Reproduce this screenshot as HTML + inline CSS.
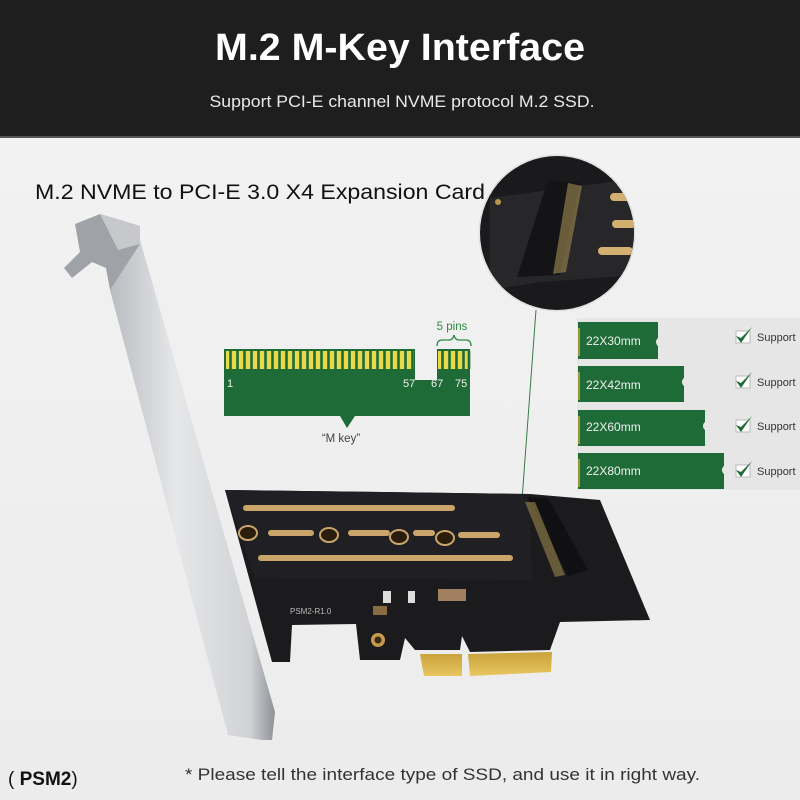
<!DOCTYPE html>
<html><head><meta charset="utf-8"><style>
html,body{margin:0;padding:0;width:800px;height:800px;overflow:hidden;background:#f2f2f2}
svg{display:block}
text{font-family:"Liberation Sans",sans-serif}
</style></head><body>
<svg width="800" height="800" viewBox="0 0 800 800" xmlns="http://www.w3.org/2000/svg">
<defs>
<linearGradient id="bg" x1="0" y1="0" x2="0" y2="1"><stop offset="0" stop-color="#f3f3f3"/><stop offset="1" stop-color="#ececec"/></linearGradient>
<linearGradient id="metal" x1="0" y1="0" x2="1" y2="0"><stop offset="0" stop-color="#b9bcc0"/><stop offset=".4" stop-color="#e6e7e9"/><stop offset=".85" stop-color="#d0d2d5"/><stop offset="1" stop-color="#8e9196"/></linearGradient>
<linearGradient id="gold" x1="0" y1="0" x2="0" y2="1"><stop offset="0" stop-color="#c9a23a"/><stop offset="1" stop-color="#e8c660"/></linearGradient>
<clipPath id="cc"><circle cx="557" cy="233" r="77"/></clipPath>
</defs>
<rect width="800" height="800" fill="url(#bg)"/>
<rect width="800" height="136" fill="#1e1e1e"/>
<rect y="136" width="800" height="2" fill="#555"/>
<text x="400" y="60" font-size="38" font-weight="bold" fill="#fff" text-anchor="middle" textLength="370" lengthAdjust="spacingAndGlyphs">M.2 M-Key Interface</text>
<text x="402" y="107" font-size="16.5" fill="#e8e8e8" text-anchor="middle" textLength="385" lengthAdjust="spacingAndGlyphs">Support PCI-E channel NVME protocol M.2 SSD.</text>
<text x="35" y="199" font-size="21" fill="#111" textLength="450" lengthAdjust="spacingAndGlyphs">M.2 NVME to PCI-E 3.0 X4 Expansion Card</text>

<circle cx="557" cy="233" r="78" fill="#eee" stroke="#ddd"/>
<g clip-path="url(#cc)">
<rect x="470" y="150" width="180" height="170" fill="#1a1a1c"/>
<polygon points="490,198 640,178 640,275 540,282 490,290" fill="#27272a"/>
<circle cx="498" cy="202" r="3" fill="#b99650"/>
<polygon points="548,180 580,183 560,275 517,277" fill="#141416"/>
<polygon points="568,183 582,186 566,272 553,274" fill="#8c7a4a" opacity=".7"/>
<rect x="610" y="193" width="25" height="8" rx="4" fill="#d4b070"/>
<rect x="612" y="220" width="25" height="8" rx="4" fill="#d4b070"/>
<rect x="598" y="247" width="35" height="8" rx="4" fill="#d4b070"/>
</g>
<line x1="536" y1="310" x2="522" y2="500" stroke="#3a7a4a" stroke-width="1"/>

<path d="M224 349 H415 V380 H437 V349 H470 V416 H355 L347 428 L340 416 H224 Z" fill="#1e6b37"/>
<g fill="#e7d94a">
<rect x="226" y="351" width="188" height="18"/>
<rect x="438" y="351" width="31" height="18"/>
</g>
<g stroke="#1e6b37" stroke-width="2.6">
<path d="M230.5 351v18M237.5 351v18M244.5 351v18M251.5 351v18M258.5 351v18M265.5 351v18M272.5 351v18M279.5 351v18M286.5 351v18M293.5 351v18M300.5 351v18M307.5 351v18M314.5 351v18M321.5 351v18M328.5 351v18M335.5 351v18M342.5 351v18M349.5 351v18M356.5 351v18M363.5 351v18M370.5 351v18M377.5 351v18M384.5 351v18M391.5 351v18M398.5 351v18M405.5 351v18M412.5 351v18M442.5 351v18M449.5 351v18M456.5 351v18M463.5 351v18M469 351v18"/>
</g>
<g font-size="11" fill="#f0f0f0"><text x="227" y="387">1</text><text x="403" y="387">57</text><text x="431" y="387">67</text><text x="455" y="387">75</text></g>
<text x="452" y="330" font-size="11.5" fill="#2e8a44" text-anchor="middle">5 pins</text>
<path d="M437 346 q0 -6 5 -6 h7 q4 0 5 -5 q1 5 5 5 h7 q5 0 5 6" fill="none" stroke="#2e8a44" stroke-width="1.3"/>
<text x="341" y="442" font-size="11.5" fill="#444" text-anchor="middle">“M key”</text>

<rect x="577" y="318" width="223" height="172" fill="#e6e6e6"/>
<g fill="#1e6b37">
<path d="M578 322 H658 V338 a5 5 0 0 0 0 8 V359 H578 Z"/>
<path d="M578 366 H684 V378 a5 5 0 0 0 0 8 V402 H578 Z"/>
<path d="M578 410 H705 V422 a5 5 0 0 0 0 8 V446 H578 Z"/>
<path d="M578 453 H724 V466 a5 5 0 0 0 0 8 V489 H578 Z"/>
</g>
<g fill="#9a9a3a"><rect x="578" y="328" width="2" height="28"/><rect x="578" y="372" width="2" height="28"/><rect x="578" y="416" width="2" height="28"/><rect x="578" y="459" width="2" height="28"/></g>
<g font-size="12" fill="#f0f0f0"><text x="586" y="345">22X30mm</text><text x="586" y="389">22X42mm</text><text x="586" y="431">22X60mm</text><text x="586" y="475">22X80mm</text></g>
<g font-size="11" fill="#333"><text x="757" y="341">Support</text><text x="757" y="386">Support</text><text x="757" y="430">Support</text><text x="757" y="475">Support</text></g>
<g>
<rect x="736" y="331" width="14" height="12" fill="#fff" stroke="#bbb"/><path d="M736 336 l5 7 l11 -16 l-11 11 z" fill="#1e6b37"/>
<rect x="736" y="376" width="14" height="12" fill="#fff" stroke="#bbb"/><path d="M736 381 l5 7 l11 -16 l-11 11 z" fill="#1e6b37"/>
<rect x="736" y="420" width="14" height="12" fill="#fff" stroke="#bbb"/><path d="M736 425 l5 7 l11 -16 l-11 11 z" fill="#1e6b37"/>
<rect x="736" y="465" width="14" height="12" fill="#fff" stroke="#bbb"/><path d="M736 470 l5 7 l11 -16 l-11 11 z" fill="#1e6b37"/>
</g>

<polygon points="225,490 530,494 600,500 650,620 560,622 550,650 470,652 462,636 460,650 415,650 405,638 400,660 380,660 360,660 356,624 292,625 290,662 272,662" fill="#1b1b1e"/>
<polygon points="225,490 530,494 532,580 255,578" fill="#202024"/>
<g fill="#c9a56a">
<rect x="243" y="505" width="212" height="6" rx="3"/>
<rect x="268" y="530" width="46" height="6" rx="3"/>
<rect x="348" y="530" width="42" height="6" rx="3"/>
<rect x="413" y="530" width="22" height="6" rx="3"/>
<rect x="458" y="532" width="42" height="6" rx="3"/>
<rect x="258" y="555" width="255" height="6" rx="3"/>
</g>
<g fill="#2a1d0c" stroke="#c9a56a" stroke-width="2">
<ellipse cx="248" cy="533" rx="9" ry="7"/><ellipse cx="329" cy="535" rx="9" ry="7"/><ellipse cx="399" cy="537" rx="9" ry="7"/><ellipse cx="445" cy="538" rx="9" ry="7"/>
</g>
<polygon points="527,497 548,498 588,570 568,576" fill="#101012"/>
<polygon points="525,502 535,502 565,575 555,577" fill="#7b6a40" opacity=".8"/>
<circle cx="378" cy="640" r="7" fill="#c79a4a"/><circle cx="378" cy="640" r="3.5" fill="#3a2a10"/>
<rect x="438" y="589" width="28" height="12" fill="#a08060"/>
<rect x="373" y="606" width="14" height="9" fill="#8a6a40"/>
<rect x="383" y="591" width="8" height="12" fill="#ddd"/><rect x="408" y="591" width="7" height="12" fill="#ddd"/>
<text x="290" y="614" font-size="8" fill="#bbb">PSM2-R1.0</text>
<polygon points="420,654 462,654 462,676 424,676" fill="url(#gold)"/>
<polygon points="468,654 552,652 551,672 470,676" fill="url(#gold)"/>

<polygon points="110,290 140,240 275,712 272,740 262,740 228,735" fill="url(#metal)"/>
<polygon points="75,224 100,214 140,226 140,244 110,290 106,268 92,262 72,278 64,268 80,252" fill="#9fa2a7"/>
<polygon points="100,214 140,226 140,244 118,250" fill="#c6c8cb"/>

<text x="8" y="785" font-size="19" fill="#111">( <tspan font-weight="bold">PSM2</tspan>)</text>
<text x="185" y="780" font-size="17" fill="#333" textLength="515" lengthAdjust="spacingAndGlyphs">* Please tell the interface type of SSD, and use it in right way.</text>
</svg>
</body></html>
